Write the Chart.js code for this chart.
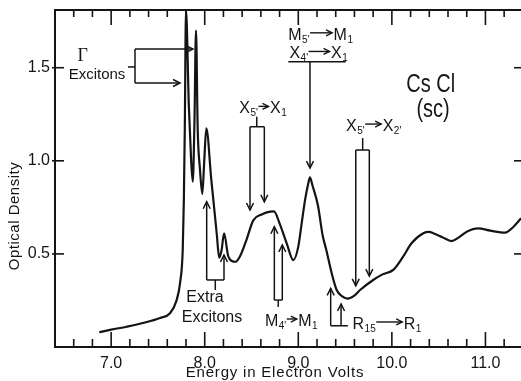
<!DOCTYPE html>
<html><head><meta charset="utf-8">
<script src="https://cdn.jsdelivr.net/npm/chart.js@4.4.1/dist/chart.umd.min.js"></script>
<style>html,body{margin:0;padding:0;background:#fff}canvas{display:block}</style>
</head><body>
<canvas id="c" width="521" height="381"></canvas>
<script>
// ---- data ----
const energy = [6.873, 7.0, 7.166, 7.35, 7.522, 7.629, 7.70, 7.736, 7.765, 7.777, 7.787, 7.80, 7.83, 7.855, 7.872,
  7.89, 7.907, 7.925, 7.95, 7.974, 7.995, 8.017, 8.07, 8.128, 8.155, 8.18, 8.207, 8.25, 8.29, 8.33, 8.38,
  8.449, 8.519, 8.609, 8.70, 8.74, 8.80, 8.876, 8.947, 9.0, 9.036, 9.072, 9.107, 9.125, 9.15, 9.21, 9.26,
  9.30, 9.357, 9.41, 9.47, 9.525, 9.606, 9.66, 9.80, 9.90, 10.015, 10.12, 10.21, 10.336, 10.40, 10.443,
  10.54, 10.64, 10.72, 10.80, 10.924, 11.05, 11.21, 11.30, 11.38];
const density = [0.079, 0.093, 0.109, 0.130, 0.156, 0.181, 0.252, 0.342, 0.521, 0.79, 1.17, 1.81, 1.30, 1.00, 0.888,
  1.20, 1.70, 1.17, 0.95, 0.822, 1.00, 1.175, 0.90, 0.611, 0.48, 0.52, 0.611, 0.49, 0.462, 0.458, 0.49,
  0.58, 0.68, 0.712, 0.727, 0.728, 0.664, 0.557, 0.467, 0.539, 0.664, 0.789, 0.88, 0.911, 0.87, 0.76, 0.60,
  0.52, 0.396, 0.306, 0.272, 0.260, 0.279, 0.306, 0.36, 0.39, 0.414, 0.485, 0.557, 0.611, 0.618, 0.611,
  0.590, 0.569, 0.59, 0.619, 0.637, 0.625, 0.614, 0.646, 0.691];
const xMajorTicks = [7, 8, 9, 10, 11];
const xMinorTicks = [6.6, 6.8, 7.2, 7.4, 7.6, 7.8, 8.2, 8.4, 8.6, 8.8, 9.2, 9.4, 9.6, 9.8, 10.2, 10.4, 10.6, 10.8, 11.2];
const yMajorTicks = [0.5, 1.0, 1.5];
const xAxisTitle = 'Energy in Electron Volts';
const yAxisTitle = 'Optical Density';
const sampleLines = ['Cs Cl', '(sc)'];

const INK = '#141414';
const SANS = '"Liberation Sans", Arial, sans-serif';

const annotate = {
  id: 'annotate',
  afterDraw(chart) {
    const {ctx, chartArea: ca, scales: {x: xs, y: ys}} = chart;
    const X = v => xs.getPixelForValue(v), Y = v => ys.getPixelForValue(v);
    ctx.save();
    ctx.strokeStyle = INK; ctx.fillStyle = INK;
    const seg = (x1, y1, x2, y2) => { ctx.beginPath(); ctx.moveTo(x1, y1); ctx.lineTo(x2, y2); ctx.stroke(); };
    const head = (x, y, dx, dy, len = 7, w = 3.5) => {
      ctx.beginPath();
      ctx.moveTo(x - dx * len - dy * w, y - dy * len + dx * w);
      ctx.lineTo(x, y);
      ctx.lineTo(x - dx * len + dy * w, y - dy * len - dx * w);
      ctx.stroke();
    };
    // frame top border
    ctx.lineWidth = 2;
    seg(ca.left - 1, ca.top, ca.right, ca.top);
    // inward ticks
    ctx.lineWidth = 1.6;
    xMinorTicks.forEach(v => { const p = X(v); seg(p, ca.bottom, p, ca.bottom - 8); seg(p, ca.top, p, ca.top + 7); });
    xMajorTicks.forEach(v => { const p = X(v); seg(p, ca.bottom, p, ca.bottom - 15); seg(p, ca.top, p, ca.top + 15); });
    yMajorTicks.forEach(v => { const p = Y(v); seg(ca.left - 3, p, ca.left + 9, p); seg(ca.right, p, ca.right - 7, p); });

    // axis titles
    ctx.textAlign = 'center'; ctx.textBaseline = 'middle';
    ctx.font = '15px ' + SANS;
    ctx.letterSpacing = '0.8px';
    ctx.fillText(xAxisTitle, 275, 373);
    ctx.save();
    ctx.translate(15, 216); ctx.rotate(-Math.PI / 2);
    ctx.letterSpacing = '0.5px';
    ctx.fillText(yAxisTitle, 0, 0);
    ctx.restore();
    ctx.letterSpacing = '0px';

    // sample label (condensed lettering)
    ctx.font = '25px ' + SANS;
    [[sampleLines[0], 10.415, 1.407], [sampleLines[1], 10.44, 1.273]].forEach(([t, xv, yv]) => {
      ctx.save(); ctx.translate(X(xv), Y(yv)); ctx.scale(0.8, 1); ctx.fillText(t, 0, 0); ctx.restore();
    });

    // formula helper: a_sub -> b_sub, caps centred on y
    const chem = (x, y, a, aSub, arrowLen, b, bSub, size = 16) => {
      ctx.textAlign = 'left'; ctx.textBaseline = 'alphabetic';
      const base = y + size * 0.36;
      const main = size + 'px ' + SANS, small = Math.round(size * 0.6) + 'px ' + SANS;
      ctx.font = main; ctx.fillText(a, x, base); x += ctx.measureText(a).width;
      ctx.font = small; ctx.fillText(aSub, x + 0.5, base + size * 0.2); x += ctx.measureText(aSub).width + 1;
      ctx.lineWidth = 1.4; seg(x, y - 1, x + arrowLen, y - 1); head(x + arrowLen, y - 1, 1, 0, 6, 3);
      x += arrowLen + 1.5;
      ctx.font = main; ctx.fillText(b, x, base); x += ctx.measureText(b).width;
      ctx.font = small; ctx.fillText(bSub, x + 0.5, base + size * 0.2);
    };

    ctx.lineWidth = 1.5;
    // Γ excitons
    ctx.textAlign = 'center'; ctx.textBaseline = 'middle';
    ctx.font = '18px "Liberation Serif", serif';
    ctx.fillText('Γ', X(6.697), Y(1.559));
    ctx.font = '15px ' + SANS;
    ctx.fillText('Excitons', X(6.849), Y(1.461));
    seg(X(7.18), Y(1.504), X(7.255), Y(1.504));
    seg(X(7.255), Y(1.600), X(7.255), Y(1.418));
    seg(X(7.255), Y(1.600), X(7.875), Y(1.600)); head(X(7.875), Y(1.600), 1, 0);
    seg(X(7.255), Y(1.418), X(7.736), Y(1.418)); head(X(7.736), Y(1.418), 1, 0);

    // X5' -> X1
    chem(X(8.37), Y(1.287), 'X', "5'", 10, 'X', '1');
    ctx.lineWidth = 1.5;
    seg(X(8.556), Y(1.237), X(8.556), Y(1.183));
    seg(X(8.484), Y(1.183), X(8.637), Y(1.183));
    seg(X(8.484), Y(1.183), X(8.484), Y(0.736)); head(X(8.484), Y(0.736), 0, 1);
    seg(X(8.637), Y(1.183), X(8.637), Y(0.780)); head(X(8.637), Y(0.780), 0, 1);

    // M5' -> M1 / X4' -> X1
    chem(X(8.893), Y(1.682), 'M', "5'", 22, 'M', '1');
    chem(X(8.905), Y(1.582), 'X', "4'", 21, 'X', '1');
    ctx.lineWidth = 1.5;
    seg(X(8.893), Y(1.532), X(9.507), Y(1.532));
    seg(X(9.125), Y(1.532), X(9.125), Y(0.961)); head(X(9.125), Y(0.961), 0, 1);

    // X5' -> X2'
    chem(X(9.51), Y(1.192), 'X', "5'", 16, 'X', "2'");
    ctx.lineWidth = 1.5;
    seg(X(9.688), Y(1.122), X(9.688), Y(1.058));
    seg(X(9.614), Y(1.058), X(9.759), Y(1.058));
    seg(X(9.614), Y(1.058), X(9.614), Y(0.328)); head(X(9.614), Y(0.328), 0, 1);
    seg(X(9.759), Y(1.058), X(9.759), Y(0.381)); head(X(9.759), Y(0.381), 0, 1);

    // Extra excitons
    seg(X(8.021), Y(0.360), X(8.021), Y(0.780)); head(X(8.021), Y(0.780), 0, -1);
    seg(X(8.206), Y(0.360), X(8.206), Y(0.494)); head(X(8.206), Y(0.494), 0, -1);
    seg(X(8.021), Y(0.360), X(8.206), Y(0.360));
    seg(X(8.113), Y(0.360), X(8.113), Y(0.306));
    ctx.textAlign = 'center'; ctx.textBaseline = 'middle';
    ctx.font = '16px ' + SANS;
    ctx.fillText('Extra', X(8.003), Y(0.263));
    ctx.fillText('Excitons', X(8.078), Y(0.156));

    // M4' -> M1
    seg(X(8.744), Y(0.252), X(8.744), Y(0.646)); head(X(8.744), Y(0.646), 0, -1);
    seg(X(8.829), Y(0.252), X(8.829), Y(0.548)); head(X(8.829), Y(0.548), 0, -1);
    seg(X(8.744), Y(0.252), X(8.829), Y(0.252));
    seg(X(8.786), Y(0.252), X(8.786), Y(0.215));
    chem(X(8.644), Y(0.145), 'M', "4'", 10, 'M', '1');

    // R15 -> R1
    ctx.lineWidth = 1.5;
    seg(X(9.346), Y(0.114), X(9.346), Y(0.315)); head(X(9.346), Y(0.315), 0, -1);
    seg(X(9.457), Y(0.114), X(9.457), Y(0.231)); head(X(9.457), Y(0.231), 0, -1);
    seg(X(9.346), Y(0.114), X(9.53), Y(0.114));
    chem(X(9.58), Y(0.129), 'R', '15', 26, 'R', '1');
    ctx.restore();
  }
};

new Chart(document.getElementById('c'), {
  type: 'line',
  data: {
    datasets: [{
      data: energy.map((e, i) => ({x: e, y: density[i]})),
      borderColor: INK, borderWidth: 2.2, pointRadius: 0, fill: false,
      cubicInterpolationMode: 'monotone'
    }]
  },
  options: {
    responsive: false, animation: false, devicePixelRatio: 1,
    layout: {padding: {top: 10, right: 0, left: 0, bottom: 0}},
    plugins: {legend: {display: false}, tooltip: {enabled: false}, title: {display: false}},
    scales: {
      x: {
        type: 'linear', position: 'bottom', min: 6.4, max: 11.38,
        afterBuildTicks: s => { s.ticks = xMajorTicks.map(v => ({value: v})); },
        afterFit: s => { s.height = 34; s.paddingLeft = 0; s.paddingRight = 0; },
        grid: {display: false, drawTicks: false},
        border: {display: true, color: INK, width: 2},
        ticks: {color: INK, padding: 7, maxRotation: 0, font: {family: SANS, size: 16},
          callback: v => Number(v).toFixed(1)}
      },
      y: {
        type: 'linear', position: 'left', min: 0, max: 1.81,
        afterBuildTicks: s => { s.ticks = yMajorTicks.map(v => ({value: v})); },
        afterFit: s => { s.width = 55; s.paddingTop = 0; s.paddingBottom = 0; },
        grid: {display: false, drawTicks: false},
        border: {display: true, color: INK, width: 2},
        ticks: {color: INK, padding: 5, font: {family: SANS, size: 16},
          callback: v => Number(v).toFixed(1)}
      }
    }
  },
  plugins: [annotate]
});
</script>
</body></html>
